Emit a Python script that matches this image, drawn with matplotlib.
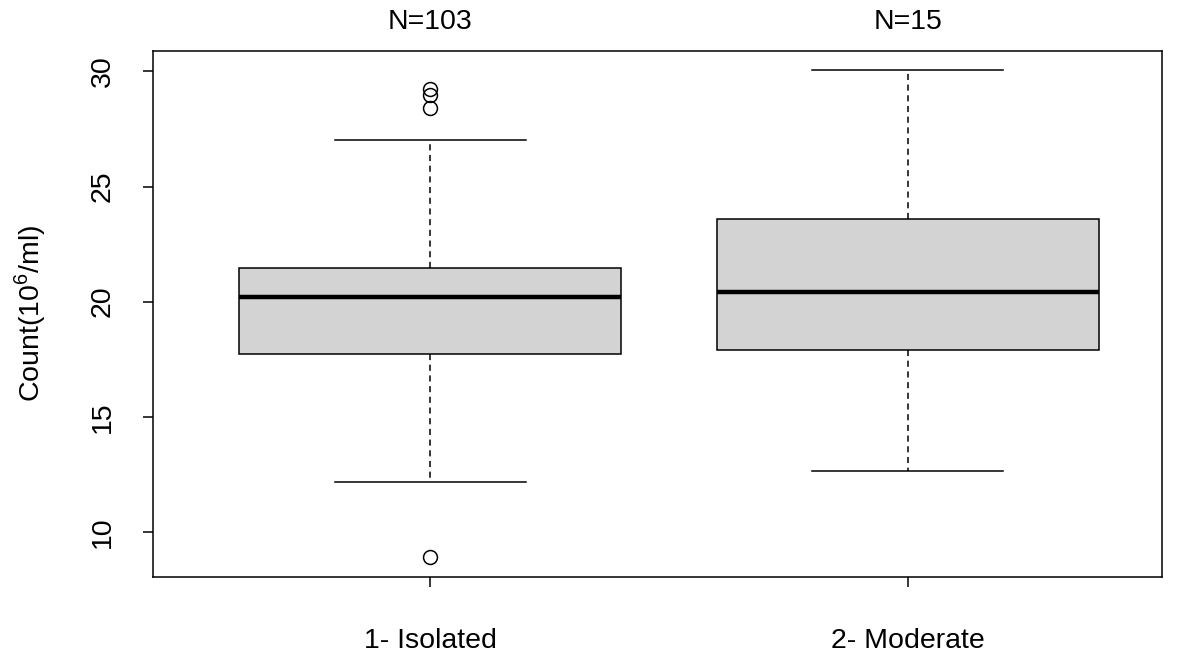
import numpy as np
import matplotlib
matplotlib.use("Agg")
import matplotlib.pyplot as plt

plt.rcParams['font.family'] = ['Liberation Sans', 'DejaVu Sans']
plt.rcParams['mathtext.fontset'] = 'custom'
plt.rcParams['mathtext.rm'] = 'Liberation Sans'

# data
groups = ["1- Isolated", "2- Moderate"]
counts = [103, 15]
q1 = [17.72, 17.90]
med = [20.22, 20.44]
q3 = [21.47, 23.60]
whislo = [12.15, 12.63]
whishi = [27.01, 30.05]
fliers = [[29.25, 28.99, 28.43, 8.89], []]
yticks = [10, 15, 20, 25, 30]

stats = []
for i in range(len(groups)):
    stats.append(dict(label=groups[i], q1=q1[i], med=med[i], q3=q3[i],
                      whislo=whislo[i], whishi=whishi[i], fliers=fliers[i]))

fs = 20.5
fig = plt.figure(figsize=(11.82, 6.59), dpi=100)
ax = fig.add_axes([0.1294, 0.1244, 0.983 - 0.1294, 0.923 - 0.1244])

pos = np.arange(1, len(groups) + 1)
ax.bxp(stats, positions=pos, widths=0.8, patch_artist=True,
       boxprops=dict(facecolor='#D3D3D3', edgecolor='black', linewidth=1.1),
       medianprops=dict(color='black', linewidth=3.2, solid_capstyle='butt'),
       whiskerprops=dict(color='black', linewidth=1.1, linestyle=(0, (4, 3))),
       capprops=dict(color='black', linewidth=1.1),
       capwidths=0.4,
       flierprops=dict(marker='o', markerfacecolor='none', markeredgecolor='black',
                       markersize=10, markeredgewidth=1.1))

ax.set_xlim(0.419, 2.532)
ax.set_ylim(8.04, 30.9)
ax.set_yticks(yticks)
ax.set_yticklabels([str(t) for t in yticks], rotation=90, va='center', fontsize=fs)
ax.set_xticks(pos)
ax.set_xticklabels(groups, fontsize=fs)
ax.tick_params(axis='both', direction='out', length=7, width=1.1, colors='black')
ax.tick_params(axis='x', pad=30)
ax.tick_params(axis='y', pad=20)
for s in ax.spines.values():
    s.set_linewidth(1.1)

ax.text(-0.1219, 0.5, "Count(10$^{6}$/ml)", transform=ax.transAxes,
        rotation=90, ha='center', va='center', fontsize=fs)

for p, n in zip(pos, counts):
    ax.text(p, 1.0545, "N=%d" % n, transform=ax.get_xaxis_transform(),
            ha='center', va='center', fontsize=fs)

fig.savefig("out.png", dpi=100)
